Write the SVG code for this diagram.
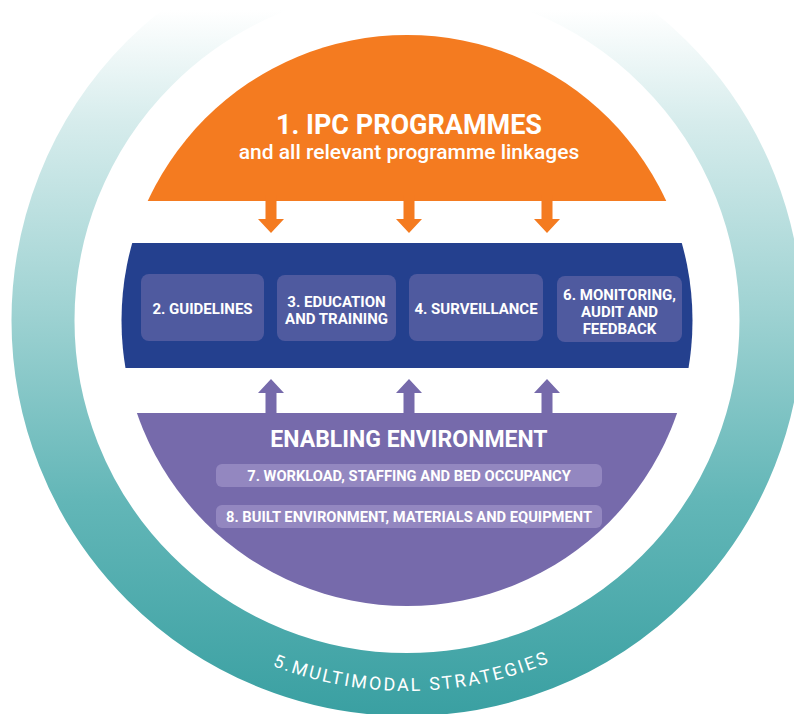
<svg xmlns="http://www.w3.org/2000/svg" xmlns:xlink="http://www.w3.org/1999/xlink" width="794" height="714" viewBox="0 0 794 714">
  <style>
    .lbl { font-family: Roboto, "Liberation Sans", sans-serif; fill: #ffffff; text-anchor: middle; }
    .b { font-weight: 700; }
    .card { fill: #4f5a9f; }
    .pill { fill: #9387c0; }
    .arr-o { fill: #f47b20; }
    .arr-p { fill: #766aab; }
  </style>
  <defs>
    <linearGradient id="ringGrad" gradientUnits="userSpaceOnUse" x1="0" y1="10" x2="0" y2="714">
      <stop offset="0" stop-color="#ffffff"/>
      <stop offset="0.16" stop-color="#d6ecec"/>
      <stop offset="0.42" stop-color="#a0d3d3"/>
      <stop offset="0.7" stop-color="#62b6b7"/>
      <stop offset="1" stop-color="#3aa0a2"/>
    </linearGradient>
    <clipPath id="clipTop"><rect x="0" y="10" width="794" height="704"/></clipPath>
    <clipPath id="clipOrange"><rect x="0" y="0" width="794" height="201"/></clipPath>
    <clipPath id="clipBlue"><rect x="0" y="243" width="794" height="125"/></clipPath>
    <clipPath id="clipPurple"><rect x="0" y="413" width="794" height="301"/></clipPath>
    <path id="ringTextPath" d="M 36.5 320.5 A 370.5 370.5 0 0 0 777.5 320.5"/>
    <path id="arrowDown" d="M -5.5 195 V 219 H -13 L 0 233 L 13 219 H 5.5 V 195 Z"/>
    <path id="arrowUp" d="M -5.5 418 V 393 H -13 L 0 379 L 13 393 H 5.5 V 418 Z"/>
  </defs>

  <!-- outer ring: 5. multimodal strategies -->
  <g id="ring-multimodal">
    <circle cx="407" cy="320.5" r="364" fill="none" stroke="url(#ringGrad)" stroke-width="63" clip-path="url(#clipTop)"/>
    <text class="lbl" font-size="18" font-weight="400" letter-spacing="2.3">
      <textPath href="#ringTextPath" startOffset="50.43%">5.MULTIMODAL STRATEGIES</textPath>
    </text>
  </g>

  <!-- 1. IPC programmes (top segment) -->
  <g id="ipc-programmes">
    <circle cx="407" cy="320.5" r="285.5" fill="#f47b20" clip-path="url(#clipOrange)"/>
    <text class="lbl b" x="409" y="134" font-size="27">1. IPC PROGRAMMES</text>
    <text class="lbl" x="409" y="159" font-size="21" font-weight="500">and all relevant programme linkages</text>
  </g>

  <!-- core components band -->
  <g id="core-band">
    <circle cx="407" cy="320.5" r="285.5" fill="#24408e" clip-path="url(#clipBlue)"/>
  </g>
  <g id="guidelines">
    <rect class="card" x="141" y="274" width="123" height="67" rx="8"/>
    <text class="lbl b" x="202.5" y="314" font-size="15">2. GUIDELINES</text>
  </g>
  <g id="education-training">
    <rect class="card" x="277" y="275" width="119" height="66" rx="8"/>
    <text class="lbl b" x="336.5" y="307" font-size="15">3. EDUCATION</text>
    <text class="lbl b" x="336.5" y="324" font-size="15">AND TRAINING</text>
  </g>
  <g id="surveillance">
    <rect class="card" x="409" y="274" width="134" height="67" rx="8"/>
    <text class="lbl b" x="476" y="314" font-size="15">4. SURVEILLANCE</text>
  </g>
  <g id="monitoring-audit-feedback">
    <rect class="card" x="557" y="276" width="125" height="66" rx="8"/>
    <text class="lbl b" x="619.5" y="300" font-size="15">6. MONITORING,</text>
    <text class="lbl b" x="619.5" y="317" font-size="15">AUDIT AND</text>
    <text class="lbl b" x="619.5" y="333.5" font-size="15">FEEDBACK</text>
  </g>

  <!-- enabling environment (bottom segment) -->
  <g id="enabling-environment">
    <circle cx="407" cy="320.5" r="285.5" fill="#766aab" clip-path="url(#clipPurple)"/>
    <text class="lbl b" x="409" y="447" font-size="23">ENABLING ENVIRONMENT</text>
  </g>
  <g id="workload-staffing">
    <rect class="pill" x="216" y="464" width="386" height="23" rx="6"/>
    <text class="lbl b" x="409" y="481" font-size="14.7">7. WORKLOAD, STAFFING AND BED OCCUPANCY</text>
  </g>
  <g id="built-environment">
    <rect class="pill" x="216" y="505" width="386" height="23" rx="6"/>
    <text class="lbl b" x="409" y="521.5" font-size="14.7">8. BUILT ENVIRONMENT, MATERIALS AND EQUIPMENT</text>
  </g>

  <!-- connectors -->
  <g id="connectors">
    <use href="#arrowDown" x="271" class="arr-o"/>
    <use href="#arrowDown" x="409" class="arr-o"/>
    <use href="#arrowDown" x="547" class="arr-o"/>
    <use href="#arrowUp" x="271" class="arr-p"/>
    <use href="#arrowUp" x="409" class="arr-p"/>
    <use href="#arrowUp" x="547" class="arr-p"/>
  </g>
</svg>
